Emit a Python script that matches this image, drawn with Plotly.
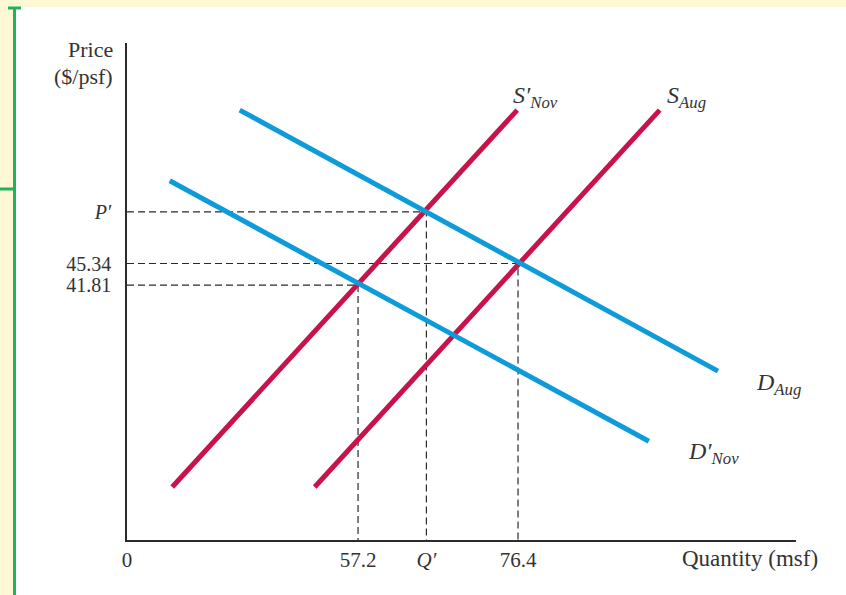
import plotly.graph_objects as go

# ---- data (quantity in msf, price in $/psf) ----
s_nov_q = [34.9, 76.3]
s_nov_p = [8.7, 70.5]
s_aug_q = [52.0, 93.4]
s_aug_p = [8.7, 70.5]
d_aug_q = [43.0, 100.4]
d_aug_p = [70.5, 27.7]
d_nov_q = [34.6, 92.1]
d_nov_p = [58.9, 16.2]

eq_q = [57.2, 65.4, 76.4]
eq_p = [41.81, 53.8, 45.34]

x_tickvals = [29.48, 57.2, 65.4, 76.4]
x_ticktext = ["0", "57.2", "<i>Q′</i>", "76.4"]
y_tickvals = [41.81, 45.34, 53.8]
y_ticktext = ["41.81", "45.34", "<i>P′</i>"]

X_RANGE = [29.47, 109.76]
Y_RANGE = [0, 81.5]

RED = "#C8124A"
BLUE = "#0E9BDA"
DARK = "#2a2a2a"
FONT = "Liberation Serif"

W, H = 846, 595
ML, MR, MT, MB = 127, 50, 43, 55
PW, PH = W - ML - MR, H - MT - MB


def fx(px):
    return (px - ML) / PW


def fy(py):
    return (H - MB - py) / PH


fig = go.Figure()

# dashed guide lines from axes to equilibria
for q, p in zip(eq_q, eq_p):
    fig.add_trace(go.Scatter(x=[X_RANGE[0], q, q], y=[p, p, Y_RANGE[0]], mode="lines",
                             line=dict(color=DARK, width=1.2, dash="7px,4px"),
                             hoverinfo="skip", showlegend=False))

for q, p, c in [(s_nov_q, s_nov_p, RED), (s_aug_q, s_aug_p, RED),
                (d_aug_q, d_aug_p, BLUE), (d_nov_q, d_nov_p, BLUE)]:
    fig.add_trace(go.Scatter(x=q, y=p, mode="lines", line=dict(color=c, width=5),
                             showlegend=False))

labels = [
    (75.6, 72.6, "<i>S′<sub>Nov</sub></i>"),
    (94.0, 72.6, "<i>S<sub>Aug</sub></i>"),
    (104.7, 25.6, "<i>D<sub>Aug</sub></i>"),
    (96.6, 14.3, "<i>D′<sub>Nov</sub></i>"),
]
ann = []
for q, p, t in labels:
    ann.append(dict(x=q, y=p, xref="x", yref="y", text=t, showarrow=False,
                    xanchor="left", yanchor="middle",
                    font=dict(family=FONT, size=24, color="#333")))

for txt, py in [("Price", 50), ("($/psf)", 76)]:
    ann.append(dict(x=fx(115), y=fy(py), xref="paper", yref="paper",
                    text=txt, showarrow=False,
                    xanchor="right", yanchor="middle",
                    font=dict(family=FONT, size=22, color="#333")))
ann.append(dict(x=fx(820), y=fy(558), xref="paper", yref="paper",
                text="Quantity (msf)", showarrow=False,
                xanchor="right", yanchor="middle",
                font=dict(family=FONT, size=23, color="#333")))

shapes = [
    # white page area over yellow paper
    dict(type="rect", xref="paper", yref="paper", x0=fx(13), x1=fx(W + 5),
         y0=fy(7), y1=fy(H + 5), fillcolor="white", line=dict(width=0), layer="below"),
    # green margin marks
    dict(type="line", xref="paper", yref="paper", x0=fx(14.5), x1=fx(14.5),
         y0=fy(8), y1=fy(H + 5), line=dict(color="#1DB45A", width=3)),
    dict(type="line", xref="paper", yref="paper", x0=fx(8), x1=fx(21),
         y0=fy(8), y1=fy(8), line=dict(color="#1DB45A", width=3)),
    dict(type="line", xref="paper", yref="paper", x0=fx(-2), x1=fx(14.5),
         y0=fy(189), y1=fy(189), line=dict(color="#1DB45A", width=3)),
]

fig.update_layout(
    width=W, height=H,
    margin=dict(l=ML, r=MR, t=MT, b=MB),
    paper_bgcolor="#FFF8D4",
    plot_bgcolor="rgba(0,0,0,0)",
    annotations=ann,
    shapes=shapes,
    font=dict(family=FONT, size=20, color="#333"),
    xaxis=dict(range=X_RANGE, showgrid=False, zeroline=False, showline=True,
               linecolor=DARK, linewidth=1.5, tickvals=x_tickvals, ticktext=x_ticktext,
               ticks="", ticklabelstandoff=0, tickfont=dict(family=FONT, size=21, color="#333")),
    yaxis=dict(range=Y_RANGE, showgrid=False, zeroline=False, showline=True,
               linecolor=DARK, linewidth=1.5, tickvals=y_tickvals, ticktext=y_ticktext,
               ticks="", ticklabelstandoff=10, tickfont=dict(family=FONT, size=20, color="#333")),
)

fig.write_html("out.html", config={"displayModeBar": False},
               post_script="document.body.style.margin='0';document.body.style.overflow='hidden';")
